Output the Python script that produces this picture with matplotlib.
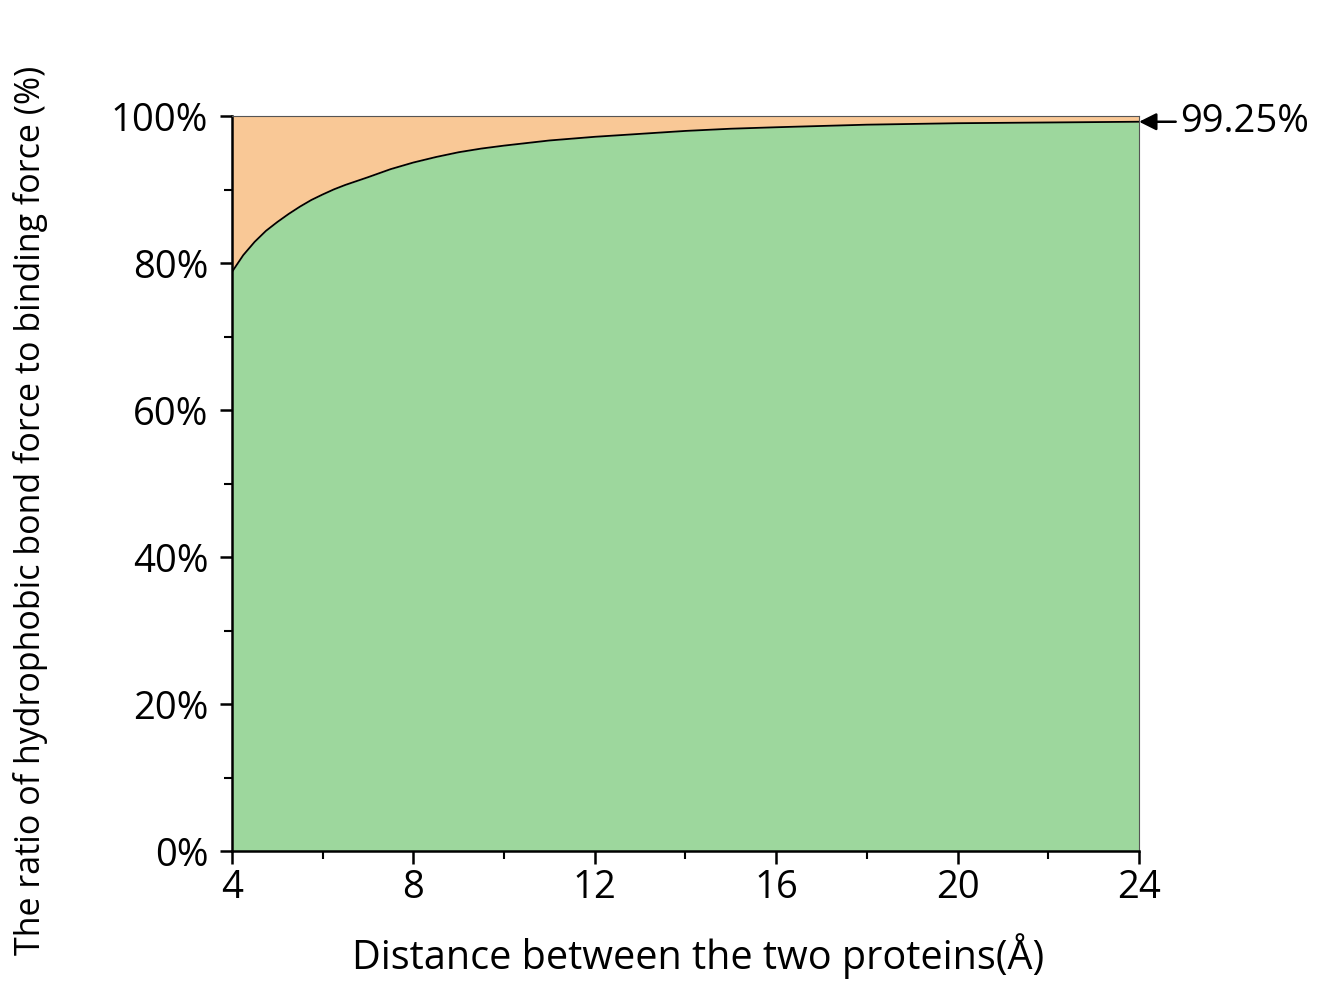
import numpy as np
import matplotlib.pyplot as plt
from matplotlib.ticker import MultipleLocator, FuncFormatter

# distance between the two proteins (Å) and hydrophobic share of binding force (%)
distance = [4, 4.25, 4.5, 4.75, 5, 5.25, 5.5, 5.75, 6, 6.25, 6.5, 7, 7.5, 8,
            8.5, 9, 9.5, 10, 11, 12, 13, 14, 15, 16, 18, 20, 22, 24]
ratio = [78.8, 81.1, 82.9, 84.4, 85.6, 86.7, 87.7, 88.6, 89.35, 90.05, 90.65,
         91.7, 92.8, 93.7, 94.45, 95.1, 95.6, 96.0, 96.7, 97.2, 97.6, 98.0,
         98.3, 98.5, 98.85, 99.05, 99.15, 99.25]

x_ticks = [4, 8, 12, 16, 20, 24]
y_ticks = [0, 20, 40, 60, 80, 100]
end_label = "99.25%"

plt.rcParams['font.family'] = ['Open Sans', 'DejaVu Sans']

fig = plt.figure(figsize=(13.33, 9.85), dpi=100)
ax = fig.add_axes([0.174, 0.136, 0.6805, 0.746])

ax.fill_between(distance, 0, ratio, color='#9dd79d', lw=0)
ax.fill_between(distance, ratio, 100, color='#f9c896', lw=0)
ax.plot(distance, ratio, color='black', lw=1.3)

ax.set_xlim(4, 24)
ax.set_ylim(0, 100)
ax.set_xticks(x_ticks)
ax.set_yticks(y_ticks)
ax.xaxis.set_minor_locator(MultipleLocator(2))
ax.yaxis.set_minor_locator(MultipleLocator(10))
ax.yaxis.set_major_formatter(FuncFormatter(lambda v, p: f"{v:.0f}%"))

ax.tick_params(which='major', direction='out', length=9, width=1.8, labelsize=27.5)
ax.tick_params(axis='x', which='major', pad=4)
ax.tick_params(axis='y', which='major', pad=8)
ax.tick_params(which='minor', direction='out', length=5.5, width=1.5)

for s in ['left', 'bottom']:
    ax.spines[s].set_linewidth(1.8)
for s in ['top', 'right']:
    ax.spines[s].set_linewidth(0.8)
    ax.spines[s].set_color('#555555')

ax.set_xlabel('Distance between the two proteins(Å)', fontsize=28.5)
ax.xaxis.set_label_coords(0.514, -0.112)
ax.set_ylabel('The ratio of hydrophobic bond force to binding force (%)', fontsize=24.5)
ax.yaxis.set_label_coords(-0.203, 0.464)

ax.annotate(end_label, xy=(24, ratio[-1]), xytext=(24.9, ratio[-1]),
            fontsize=27.5, va='center', ha='left', annotation_clip=False,
            arrowprops=dict(arrowstyle='-|>', color='black', lw=1.8,
                            mutation_scale=26, shrinkA=1, shrinkB=0))

plt.savefig('out.png', dpi=100)
